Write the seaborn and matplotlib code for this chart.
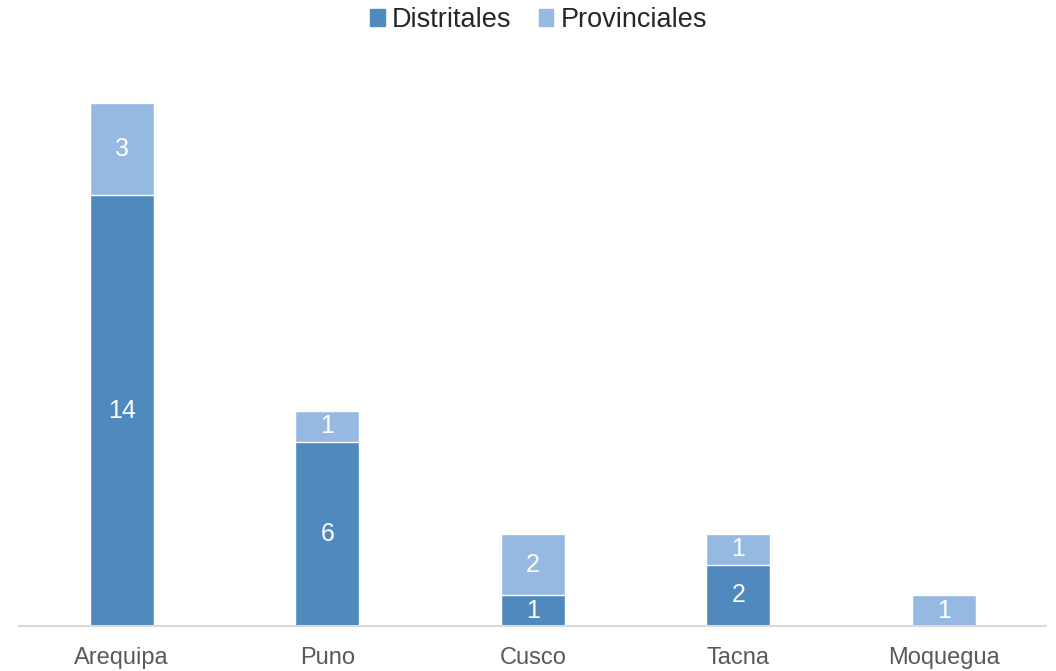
import matplotlib
matplotlib.use("Agg")
import matplotlib.pyplot as plt
import seaborn as sns
import pandas as pd
from matplotlib.patches import Patch

regiones = ["Arequipa", "Puno", "Cusco", "Tacna", "Moquegua"]
distritales = [14, 6, 1, 2, 0]
provinciales = [3, 1, 2, 1, 1]

c_dist = "#4F89BD"
c_prov = "#95B9E1"

df = pd.DataFrame({"region": regiones, "dist": distritales, "prov": provinciales})
df["total"] = df["dist"] + df["prov"]

sns.set_theme(style="white")
plt.rcParams["font.family"] = ["Liberation Sans", "DejaVu Sans"]

fig = plt.figure(figsize=(10.56, 6.71), dpi=100)
ax = fig.add_axes([0.018, 0.067, 0.973, 0.825])

# total first (light), then distritales on top (dark) -> stacked look
sns.barplot(data=df, x="region", y="total", color=c_prov, saturation=1, width=0.31, ax=ax)
sns.barplot(data=df, x="region", y="dist", color=c_dist, saturation=1, width=0.31, ax=ax)

for i, row in df.iterrows():
    if row["dist"] > 0:
        ax.text(i, row["dist"] / 2, str(row["dist"]), ha="center", va="center",
                color="white", fontsize=18)
    if row["prov"] > 0:
        ax.text(i, row["dist"] + row["prov"] / 2, str(row["prov"]), ha="center",
                va="center", color="white", fontsize=18)

ax.set_ylim(0, 18)
ax.set_xlim(-0.5, 4.5)
ax.set_xlabel("")
ax.set_ylabel("")
ax.set_yticks([])
for s in ["top", "right", "left"]:
    ax.spines[s].set_visible(False)
ax.spines["bottom"].set_color("#D9D9D9")
ax.spines["bottom"].set_linewidth(1.5)
ax.tick_params(axis="x", length=0, labelsize=17, labelcolor="#595959", pad=15)

handles = [Patch(color=c_dist, label="Distritales"), Patch(color=c_prov, label="Provinciales")]
fig.legend(handles=handles, loc="center", bbox_to_anchor=(0.51, 0.97), ncol=2,
           frameon=False, fontsize=19.5, handlelength=0.55, handleheight=0.55,
           handletextpad=0.25, columnspacing=1.0)

fig.savefig("out.png", dpi=100)
